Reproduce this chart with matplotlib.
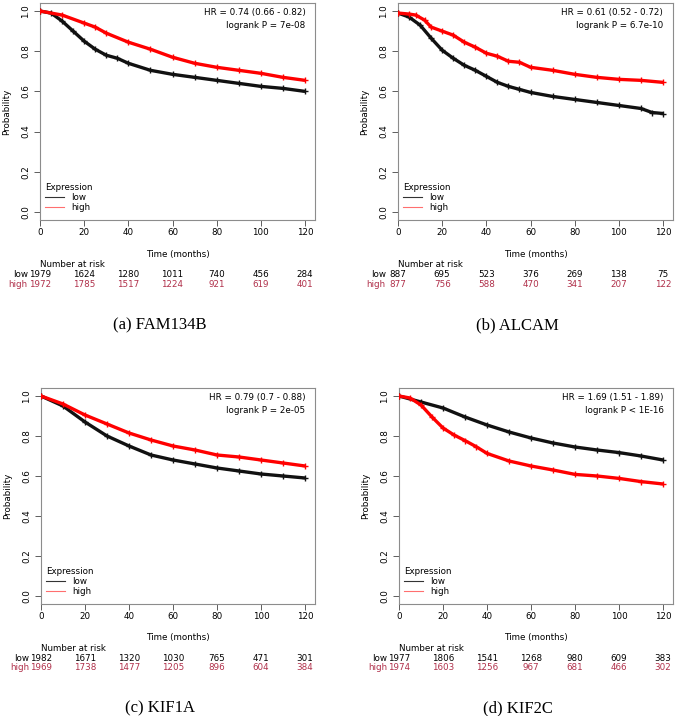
import matplotlib
matplotlib.use("Agg")
import matplotlib.pyplot as plt
from matplotlib.lines import Line2D
from matplotlib.transforms import blended_transform_factory

# ---------------- data ----------------
risk_times = [0, 20, 40, 60, 80, 100, 120]

# Panel (a) FAM134B
a_low_t = [0, 5, 10, 15, 20, 25, 30, 35, 40, 50, 60, 70, 80, 90, 100, 110, 120]
a_low_s = [1.0, 0.99, 0.95, 0.90, 0.85, 0.81, 0.78, 0.765, 0.74, 0.705, 0.685, 0.67, 0.655, 0.64, 0.625, 0.615, 0.60]
a_high_t = [0, 10, 20, 25, 30, 40, 50, 60, 70, 80, 90, 100, 110, 120]
a_high_s = [1.0, 0.98, 0.94, 0.92, 0.89, 0.845, 0.81, 0.77, 0.74, 0.72, 0.705, 0.69, 0.67, 0.655]
a_risk_low = [1979, 1624, 1280, 1011, 740, 456, 284]
a_risk_high = [1972, 1785, 1517, 1224, 921, 619, 401]
a_hr = "HR = 0.74 (0.66 - 0.82)"
a_p = "logrank P = 7e-08"

# Panel (b) ALCAM
b_low_t = [0, 5, 10, 15, 20, 25, 30, 35, 40, 45, 50, 55, 60, 70, 80, 90, 100, 110, 115, 120]
b_low_s = [0.99, 0.97, 0.93, 0.865, 0.805, 0.765, 0.73, 0.705, 0.675, 0.645, 0.625, 0.61, 0.595, 0.575, 0.56, 0.545, 0.53, 0.515, 0.495, 0.49]
b_high_t = [0, 5, 8, 12, 15, 20, 25, 30, 35, 40, 45, 50, 55, 60, 70, 80, 90, 100, 110, 120]
b_high_s = [0.99, 0.985, 0.98, 0.955, 0.92, 0.90, 0.88, 0.845, 0.82, 0.79, 0.775, 0.75, 0.745, 0.72, 0.705, 0.685, 0.67, 0.66, 0.655, 0.645]
b_risk_low = [887, 695, 523, 376, 269, 138, 75]
b_risk_high = [877, 756, 588, 470, 341, 207, 122]
b_hr = "HR = 0.61 (0.52 - 0.72)"
b_p = "logrank P = 6.7e-10"

# Panel (c) KIF1A
c_low_t = [0, 10, 20, 30, 40, 50, 60, 70, 80, 90, 100, 110, 120]
c_low_s = [1.0, 0.95, 0.87, 0.80, 0.75, 0.705, 0.68, 0.66, 0.64, 0.625, 0.61, 0.60, 0.59]
c_high_t = [0, 10, 20, 30, 40, 50, 60, 70, 80, 90, 100, 110, 120]
c_high_s = [1.0, 0.96, 0.905, 0.86, 0.815, 0.78, 0.75, 0.73, 0.705, 0.695, 0.68, 0.665, 0.65]
c_risk_low = [1982, 1671, 1320, 1030, 765, 471, 301]
c_risk_high = [1969, 1738, 1477, 1205, 896, 604, 384]
c_hr = "HR = 0.79 (0.7 - 0.88)"
c_p = "logrank P = 2e-05"

# Panel (d) KIF2C
d_low_t = [0, 10, 20, 30, 40, 50, 60, 70, 80, 90, 100, 110, 120]
d_low_s = [1.0, 0.97, 0.94, 0.895, 0.855, 0.82, 0.79, 0.765, 0.745, 0.73, 0.717, 0.70, 0.68]
d_high_t = [0, 5, 10, 15, 20, 25, 30, 35, 40, 50, 60, 70, 80, 90, 100, 110, 120]
d_high_s = [1.0, 0.99, 0.955, 0.895, 0.84, 0.805, 0.777, 0.747, 0.713, 0.675, 0.65, 0.63, 0.608, 0.60, 0.588, 0.572, 0.56]
d_risk_low = [1977, 1806, 1541, 1268, 980, 609, 383]
d_risk_high = [1974, 1603, 1256, 967, 681, 466, 302]
d_hr = "HR = 1.69 (1.51 - 1.89)"
d_p = "logrank P < 1E-16"

captions = ["(a) FAM134B", "(b) ALCAM", "(c) KIF1A", "(d) KIF2C"]

# ---------------- figure ----------------
W, H = 675, 716
fig = plt.figure(figsize=(W / 100, H / 100), dpi=100)
plt.rcParams['font.family'] = ['DejaVu Sans']

def ax_rect(left, top, right, bottom):
    return [left / W, 1 - bottom / H, (right - left) / W, (bottom - top) / H]

rects = [ax_rect(40, 3, 315, 220), ax_rect(398, 3, 673, 220),
         ax_rect(41, 388, 315, 604), ax_rect(399, 388, 673, 604)]

panels = [
    (a_low_t, a_low_s, a_high_t, a_high_s, a_risk_low, a_risk_high, a_hr, a_p),
    (b_low_t, b_low_s, b_high_t, b_high_s, b_risk_low, b_risk_high, b_hr, b_p),
    (c_low_t, c_low_s, c_high_t, c_high_s, c_risk_low, c_risk_high, c_hr, c_p),
    (d_low_t, d_low_s, d_high_t, d_high_s, d_risk_low, d_risk_high, d_hr, d_p),
]

FS = 6.3
RISK_RED = "#b0304a"
FRAME = "#8c8c8c"

for rect, pdata, cap in zip(rects, panels, captions):
    lt, ls, ht, hs, rl, rh, hr, p = pdata
    ax = fig.add_axes(rect)
    ax.plot(lt, ls, color="#111111", lw=2.4, solid_capstyle="butt",
            marker="+", ms=5, mew=1.0, zorder=3)
    ax.plot(ht, hs, color="#ff0000", lw=2.4, solid_capstyle="butt",
            marker="+", ms=5, mew=1.0, zorder=3)
    ax.set_xlim(0, 124.5)
    ax.set_ylim(-0.04, 1.04)
    ax.set_xticks(risk_times)
    ax.set_yticks([0.0, 0.2, 0.4, 0.6, 0.8, 1.0])
    ax.set_yticklabels(["0.0", "0.2", "0.4", "0.6", "0.8", "1.0"], rotation=90, va="center")
    ax.tick_params(axis="both", labelsize=FS, length=4, width=0.6, color="#444444", pad=2)
    ax.tick_params(axis="y", pad=3)
    for s in ax.spines.values():
        s.set_color(FRAME)
        s.set_linewidth(0.8)
    ax.set_ylabel("Probability", fontsize=FS, labelpad=7)
    ax.text(0.5, -0.157, "Time (months)", transform=ax.transAxes,
            ha="center", va="center", fontsize=FS)
    ax.text(0.965, 0.975, hr, transform=ax.transAxes, ha="right", va="top", fontsize=FS)
    ax.text(0.965, 0.915, p, transform=ax.transAxes, ha="right", va="top", fontsize=FS)

    handles = [Line2D([0], [0], color="#333333", lw=0.8),
               Line2D([0], [0], color="#ff6f6f", lw=0.8)]
    ax.legend(handles, ["low", "high"], title="Expression", loc="lower left",
              bbox_to_anchor=(-0.01, 0.0), frameon=False, fontsize=FS,
              title_fontsize=FS, handlelength=2.2, handletextpad=0.8,
              labelspacing=0.15, borderpad=0.4, alignment="left")

    tr = blended_transform_factory(ax.transData, ax.transAxes)
    ax.text(0.0, -0.207, "Number at risk", transform=ax.transAxes,
            ha="left", va="center", fontsize=FS)
    ax.text(-5.5, -0.253, "low", transform=tr, ha="right", va="center", fontsize=FS)
    ax.text(-5.5, -0.295, "high", transform=tr, ha="right", va="center",
            fontsize=FS, color=RISK_RED)
    for t, n1, n2 in zip(risk_times, rl, rh):
        ax.text(t, -0.253, str(n1), transform=tr, ha="center", va="center", fontsize=FS)
        ax.text(t, -0.295, str(n2), transform=tr, ha="center", va="center",
                fontsize=FS, color=RISK_RED)

    ax.text(0.435, -0.484, cap, transform=ax.transAxes, ha="center", va="center",
            fontsize=12, family=["Liberation Serif", "DejaVu Serif"])

fig.savefig("out.png", dpi=100)
